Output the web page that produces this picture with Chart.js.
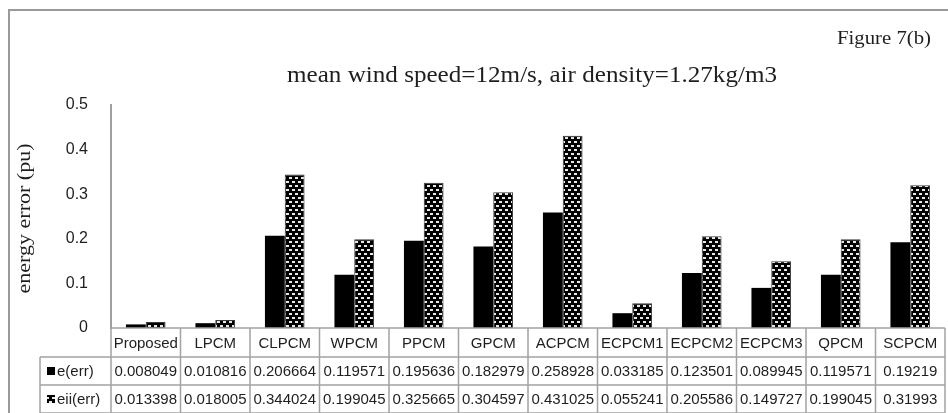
<!DOCTYPE html>
<html lang="en">
<head>
    <meta charset="UTF-8">
    <title>Energy error comparison</title>
    <script src="https://cdn.jsdelivr.net/npm/chart.js"></script>
    <style>
        html, body {
            margin: 0;
            padding: 0;
            background: #ffffff;
        }

        .chart-box {
            width: 948px;
            height: 413px;
        }
    </style>
</head>
<body>
    <div class="chart-box">
        <canvas id="errChart" width="948" height="413"></canvas>
    </div>

    <script>
        const categories = ['Proposed', 'LPCM', 'CLPCM', 'WPCM', 'PPCM', 'GPCM', 'ACPCM', 'ECPCM1', 'ECPCM2', 'ECPCM3', 'QPCM', 'SCPCM'];
        const eErr = [0.008049, 0.010816, 0.206664, 0.119571, 0.195636, 0.182979, 0.258928, 0.033185, 0.123501, 0.089945, 0.119571, 0.19219];
        const eiiErr = [0.013398, 0.018005, 0.344024, 0.199045, 0.325665, 0.304597, 0.431025, 0.055241, 0.205586, 0.149727, 0.199045, 0.31993];
        const seriesNames = ['e(err)', 'eii(err)'];

        const chartTitle = 'mean wind speed=12m/s, air density=1.27kg/m3';
        const figureLabel = 'Figure 7(b)';
        const yTitle = 'energy error (pu)';

        const sans = '"Liberation Sans", Arial, sans-serif';
        const serif = '"Liberation Serif", "Times New Roman", serif';
        const gridGray = '#a3a3a3';
        const inkColor = '#1e1e1e';

        // black fill with small white dashes in a brick layout
        function makeDotPattern() {
            const tile = document.createElement('canvas');
            tile.width = 6;
            tile.height = 8;
            const t = tile.getContext('2d');
            t.fillStyle = '#000000';
            t.fillRect(0, 0, 6, 8);
            t.fillStyle = '#e8e8e8';
            t.fillRect(1, 1, 3, 2);
            t.fillRect(4, 5, 2, 2);
            t.fillRect(0, 5, 1, 2);
            const ctx = document.createElement('canvas').getContext('2d');
            return ctx.createPattern(tile, 'repeat');
        }
        const dotPattern = makeDotPattern();

        // serif labels are drawn a bit wide, stretched to a given run length
        function drawWideText(ctx, text, x, y, width) {
            const sx = width / ctx.measureText(text).width;
            ctx.save();
            ctx.translate(x, y);
            ctx.scale(sx, 1);
            ctx.fillText(text, 0, 0);
            ctx.restore();
        }

        const decorPlugin = {
            id: 'decor',
            beforeDraw(chart) {
                const ctx = chart.ctx;
                ctx.save();
                // outer frame
                ctx.strokeStyle = '#9a9a9a';
                ctx.lineWidth = 2;
                ctx.beginPath();
                ctx.moveTo(9, chart.height);
                ctx.lineTo(9, 10);
                ctx.lineTo(chart.width, 10);
                ctx.stroke();
                ctx.restore();
            },
            afterDraw(chart) {
                const ctx = chart.ctx;
                const area = chart.chartArea;
                const xs = chart.scales.x;
                const colW = (area.right - area.left) / categories.length;

                ctx.save();
                ctx.fillStyle = inkColor;
                ctx.textBaseline = 'alphabetic';

                // title and figure label
                ctx.font = '23px ' + serif;
                ctx.textAlign = 'center';
                drawWideText(ctx, chartTitle, 532, 82, 490);
                ctx.font = '19px ' + serif;
                ctx.textAlign = 'right';
                drawWideText(ctx, figureLabel, 931, 44, 94);

                // y axis title
                ctx.save();
                ctx.translate(25, (area.top + area.bottom) / 2 + 2);
                ctx.rotate(-Math.PI / 2);
                ctx.textAlign = 'center';
                ctx.textBaseline = 'middle';
                ctx.font = '18px ' + serif;
                drawWideText(ctx, yTitle, 0, 0, 150);
                ctx.restore();

                // data table under the plot
                const rowH = [29, 28, 28];
                const top = area.bottom;
                const r1 = top + rowH[0];
                const r2 = r1 + rowH[1];
                const r3 = r2 + rowH[2];
                const legendLeft = 40;

                ctx.strokeStyle = gridGray;
                ctx.lineWidth = 1.5;
                ctx.beginPath();
                ctx.moveTo(area.left, top); ctx.lineTo(area.right, top);
                ctx.moveTo(legendLeft, r1); ctx.lineTo(area.right, r1);
                ctx.moveTo(legendLeft, r2); ctx.lineTo(area.right, r2);
                ctx.moveTo(legendLeft, r3); ctx.lineTo(area.right, r3);
                ctx.moveTo(legendLeft, r1); ctx.lineTo(legendLeft, r3);
                for (let i = 0; i <= categories.length; i++) {
                    const x = area.left + i * colW;
                    ctx.moveTo(x, top); ctx.lineTo(x, r3);
                }
                ctx.stroke();

                ctx.font = '15px ' + sans;
                ctx.textAlign = 'center';
                ctx.textBaseline = 'middle';
                categories.forEach((c, i) => {
                    const cx = xs.getPixelForValue(i);
                    ctx.fillText(c, cx, (top + r1) / 2 + 1);
                    ctx.fillText(String(eErr[i]), cx, (r1 + r2) / 2 + 1);
                    ctx.fillText(String(eiiErr[i]), cx, (r2 + r3) / 2 + 1);
                });

                // legend keys in the first column
                ctx.fillStyle = '#000000';
                ctx.fillRect(47, (r1 + r2) / 2 - 4, 8, 8);
                ctx.fillStyle = dotPattern;
                ctx.fillRect(47, (r2 + r3) / 2 - 4, 8, 8);
                ctx.fillStyle = inkColor;
                ctx.textAlign = 'left';
                ctx.fillText(seriesNames[0], 57, (r1 + r2) / 2 + 1);
                ctx.fillText(seriesNames[1], 57, (r2 + r3) / 2 + 1);

                ctx.restore();
            }
        };

        new Chart(document.getElementById('errChart'), {
            type: 'bar',
            data: {
                labels: categories,
                datasets: [
                    {
                        label: seriesNames[0],
                        data: eErr,
                        backgroundColor: '#000000',
                        borderColor: '#000000',
                        borderWidth: 0
                    },
                    {
                        label: seriesNames[1],
                        data: eiiErr,
                        backgroundColor: dotPattern,
                        borderColor: '#3a3a3a',
                        borderWidth: 1
                    }
                ]
            },
            options: {
                responsive: false,
                animation: false,
                events: [],
                layout: {
                    padding: { left: 0, right: 3, top: 105, bottom: 85 }
                },
                datasets: {
                    bar: {
                        categoryPercentage: 0.57,
                        barPercentage: 1.0
                    }
                },
                plugins: {
                    legend: { display: false },
                    title: { display: false },
                    tooltip: { enabled: false }
                },
                scales: {
                    x: {
                        display: false
                    },
                    y: {
                        min: 0,
                        max: 0.5,
                        afterFit(scale) {
                            scale.width = 111;
                        },
                        ticks: {
                            stepSize: 0.1,
                            padding: 23,
                            color: inkColor,
                            font: { family: sans, size: 16 }
                        },
                        grid: {
                            display: false,
                            drawTicks: false
                        },
                        border: {
                            display: true,
                            color: '#a0a0a0',
                            width: 2
                        }
                    }
                }
            },
            plugins: [decorPlugin]
        });
    </script>
</body>
</html>
